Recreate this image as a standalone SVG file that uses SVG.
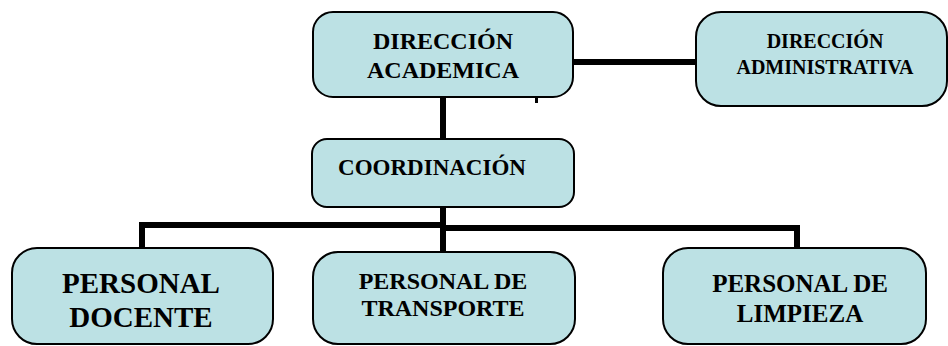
<svg xmlns="http://www.w3.org/2000/svg" width="948" height="346" viewBox="0 0 948 346">
<style>
.box{fill:#bce1e4;stroke:#000;stroke-width:2}
.t{font-weight:bold;fill:#000;text-anchor:middle}
.c{stroke:#000;fill:none;stroke-width:6}
</style>
<rect width="948" height="346" fill="#fff"/>
<g id="connectors">
<line class="c" x1="573" y1="62" x2="697" y2="62"/>
<line class="c" x1="443" y1="97" x2="443" y2="140"/>
<rect x="535" y="95" width="3" height="8" fill="#000"/>
<line class="c" x1="443" y1="207" x2="443" y2="253"/>
<polyline class="c" points="142,249 142,225 443,225"/>
<polyline class="c" points="443,228 797,228 797,249"/>
</g>
<g font-family="Liberation Serif, Times New Roman, serif">
<g id="dir-academica">
<rect class="box" x="313" y="12" width="260" height="85" rx="20"/>
<text class="t" x="443" y="49" font-size="24">DIRECCIÓN</text>
<text class="t" x="443" y="78" font-size="24">ACADEMICA</text>
</g>
<g id="dir-administrativa">
<rect class="box" x="696" y="12" width="251" height="94" rx="25"/>
<text class="t" x="825" y="48" font-size="20">DIRECCIÓN</text>
<text class="t" x="825" y="74" font-size="20">ADMINISTRATIVA</text>
</g>
<g id="coordinacion">
<rect class="box" x="312" y="139" width="262" height="68" rx="15"/>
<text class="t" x="432" y="175" font-size="23">COORDINACIÓN</text>
</g>
<g id="personal-docente">
<rect class="box" x="12" y="248" width="261" height="96" rx="25"/>
<text class="t" x="141" y="293" font-size="29">PERSONAL</text>
<text class="t" x="141" y="327" font-size="29">DOCENTE</text>
</g>
<g id="personal-transporte">
<rect class="box" x="313" y="252" width="262" height="92" rx="25"/>
<text class="t" x="443" y="289" font-size="24">PERSONAL DE</text>
<text class="t" x="443" y="316" font-size="24">TRANSPORTE</text>
</g>
<g id="personal-limpieza">
<rect class="box" x="663" y="248" width="263" height="96" rx="25"/>
<text class="t" x="800" y="292" font-size="25">PERSONAL DE</text>
<text class="t" x="800" y="322" font-size="25">LIMPIEZA</text>
</g>
</g>
</svg>
